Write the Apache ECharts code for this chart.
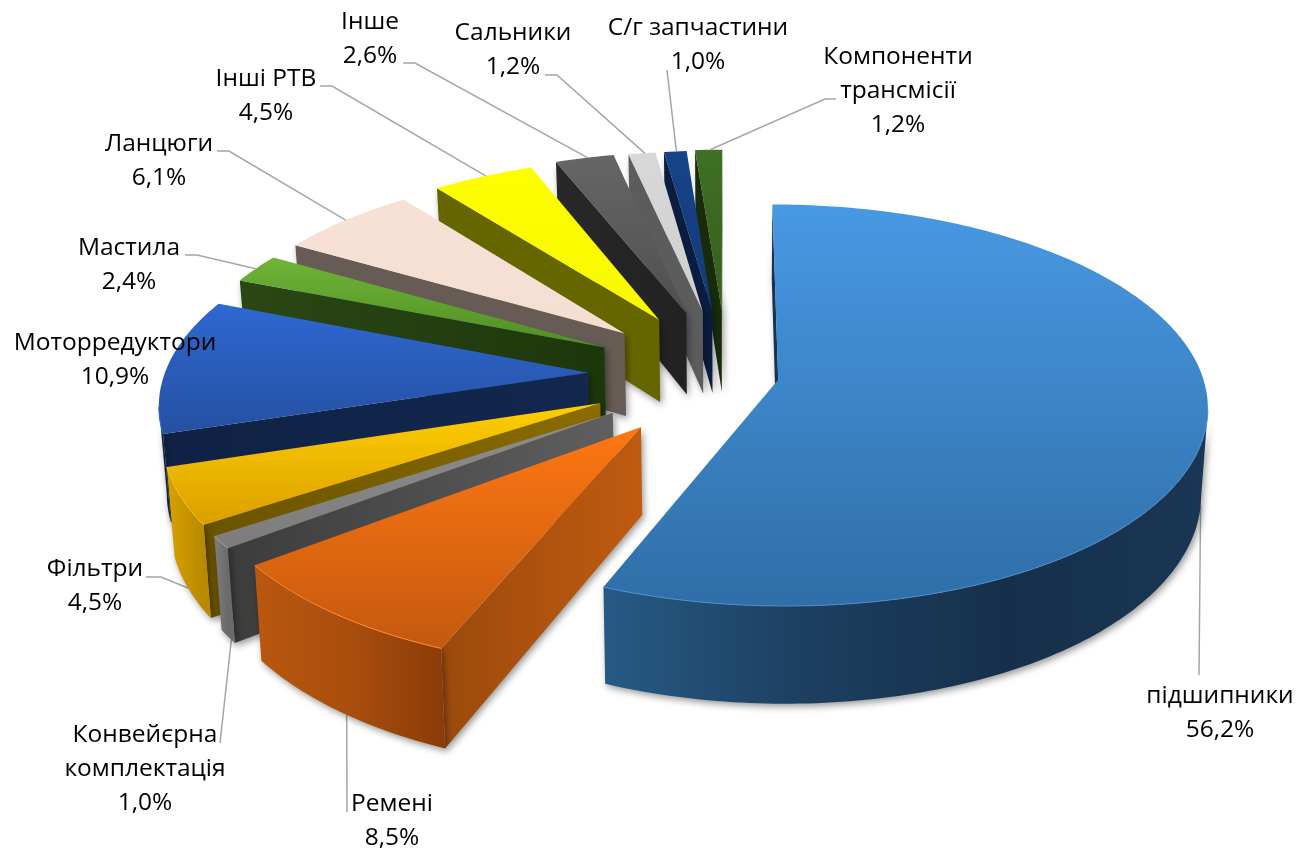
<!DOCTYPE html>
<html><head><meta charset="utf-8">
<style>html,body{margin:0;padding:0;background:#fff}#c{width:1307px;height:858px}</style>
<script src="https://cdn.jsdelivr.net/npm/echarts@6/dist/echarts.min.js"></script>
</head><body><div id="c"></div>
<script>
const categories = ['підшипники','Ремені','Конвейєрна\nкомплектація','Фільтри','Моторредуктори','Мастила','Ланцюги','Інші РТВ','Інше','Сальники','С/г запчастини','Компоненти\nтрансмісії'];
const shares = [56.2,8.5,1.0,4.5,10.9,2.4,6.1,4.5,2.6,1.2,1.0,1.2];

// --- styling / layout (not data) ---
const explode = [52,137,137,138,139,139,140,142,146,144,144,146];
const topColors = [['#4899E3','#2F6EA8'],['#FF7712','#C3590F'],['#8E8E8E','#7C7C7C'],['#FFCF00','#DC9F00'],['#2F68D2','#2450A0'],['#70B438','#4F8F25'],['#F7E1D5','#F5DFD2'],['#FFFF00','#F7F700'],['#666666','#4F4F4F'],['#D8D8D8','#CFCFCF'],['#174389','#143A75'],['#3F7023','#365E1E']];
const outerColors = [['#265A85','#1D3F60','#16304B','#1A3654'],['#BA5711','#A94E0D','#8C3C08'],['#7E7E7E','#6A6A6A'],['#D9A100','#B88A00'],['#0F2245','#0F2245'],['#3E7A1E','#3E7A1E'],['#BBB','#BBB'],['#888','#888'],['#444','#444'],['#888','#888'],['#123','#123'],['#234','#234']];
const wallColors = [['#17344F','#17344F'],['#9B4A0D','#C05B10'],['#3C3C3C','#5F5F5F'],['#6B5300','#8A6C00'],['#0F2245','#13274F'],['#2B4715','#1D370C'],['#665B55','#665B55'],['#666600','#666600'],['#282828','#222222'],['#5C5C5C','#5C5C5C'],['#0A1D40','#0A1D40'],['#182C0C','#182C0C']];
const edgeColors = ['#4A8FCB','#FF8A30','#A8A8A8','#FFC81E','#2F68D2','#80C048','#FFF0E8','#FFFF40','#777','#E4E4E4','#2558A8','#4F8A30'];
// label block centres
const labelPos = [[1220,713],[392,821],[145,769],[95,586],[115,360],[129,265],[159,161],[266,96],[370,39],[513,50],[698,45],[898,91]];
// leader: fixed points by the label, then the arc fraction it ends at, and whether it ends on the lower rim
const leaders = [
 {pts:[[1199,675]],f:.5,low:true},
 {pts:[[347,812]],f:.46,low:true},
 {pts:[[220,743]],f:.25,low:true},
 {pts:[[146,577],[161,577]],f:.5,low:true},
 null,
 {pts:[[185,255],[197,255]],f:.5,low:false},
 {pts:[[217,151],[229,151]],f:.5,low:false},
 {pts:[[320,86],[332,86]],f:.53,low:false},
 {pts:[[403,63],[415,63]],f:.55,low:false},
 {pts:[[545,75],[557,75]],f:.6,low:false},
 {pts:[[667,70]],f:.55,low:false},
 {pts:[[836,99],[825,99]],f:.55,low:false}
];
const cx=727, cy=375, R=424, tilt=.463, kk=.0003, H=85, lean=.014;
const FONT='24.5px "Open Sans","Noto Sans",sans-serif';

const total = shares.reduce((a,b)=>a+b,0);
const D2R = Math.PI/180;
function proj(u,v,low){
  const w=1-kk*v; let x=cx+u/w, y=cy+tilt*v/w;
  if(low){ y+=H/w; x=cx+(x-cx)*(1-lean); }
  return [x,y];
}
const spans=[]; { let a=0; shares.forEach(s=>{const b=a+s/total*360; spans.push([a,b]); a=b;}); }
const depth = spans.map(s=>-Math.cos((s[0]+s[1])/2*D2R));
const order = depth.map((d,i)=>[d,i]).sort((p,q)=>p[0]-q[0]).map(p=>p[1]);
const rank = []; order.forEach((id,r)=>rank[id]=r);
const camV = 1/kk;
const lin=(x,y,x2,y2,stops)=>({type:'linear',x,y,x2,y2,global:true,colorStops:stops.map((c,i)=>({offset:i/(stops.length-1),color:c}))});
const shadow={shadowBlur:7,shadowColor:'rgba(0,0,0,.4)',shadowOffsetX:2,shadowOffsetY:3};

function renderItem(params,api){
  const i=params.dataIndex, val=api.value(0);
  const [a0,a1]=spans[i], mid=(a0+a1)/2*D2R, e=explode[i];
  const pu=e*Math.sin(mid), pv=-e*Math.cos(mid);
  const rim=a=>[pu+R*Math.sin(a*D2R), pv-R*Math.cos(a*D2R)];
  const arcA=[]; const n=Math.max(2,Math.ceil(a1-a0)); for(let k=0;k<=n;k++)arcA.push(a0+(a1-a0)*k/n);
  const z=rank[i]*10, kids=[];
  const poly=(points,fill,z2,extra)=>kids.push({type:'polygon',shape:{points},style:Object.assign({fill,stroke:null},extra||{}),z2,silent:true});
  // radial walls
  [[a0,-1],[a1,1]].forEach(([a,s])=>{
    const nu=s*Math.cos(a*D2R), nv=s*Math.sin(a*D2R);
    if(nu*(0-pu)+nv*(camV-pv)<=0) return;
    const [u,v]=rim(a);
    const p1=proj(u,v,false),p2=proj(pu,pv,false),p3=proj(pu,pv,true),p4=proj(u,v,true);
    const c=wallColors[i];
    poly([p1,p2,p3,p4],lin(p1[0],0,p2[0]+1e-3,0,c),z+1,shadow);
  });
  // outer wall
  const vis=arcA.filter(a=>{const nu=Math.sin(a*D2R),nv=-Math.cos(a*D2R),[u,v]=rim(a);return nu*(0-u)+nv*(camV-v)>0;});
  if(vis.length>1){
    const up=vis.map(a=>{const[u,v]=rim(a);return proj(u,v,false);});
    const lo=vis.map(a=>{const[u,v]=rim(a);return proj(u,v,true);}).reverse();
    const xs=up.map(p=>p[0]);
    poly(up.concat(lo),lin(Math.min(...xs),0,Math.max(...xs)+1e-3,0,outerColors[i]),z+2,shadow);
    kids.push({type:'polyline',shape:{points:up},style:{stroke:edgeColors[i],lineWidth:1,fill:null},z2:z+4,silent:true});
  }
  // top face
  const topPts=[proj(pu,pv,false)].concat(arcA.map(a=>{const[u,v]=rim(a);return proj(u,v,false);}));
  const ys=topPts.map(p=>p[1]);
  poly(topPts,lin(0,Math.min(...ys),0,Math.max(...ys)+1e-3,topColors[i]),z+3);
  // leader line
  const L=leaders[i];
  if(L){
    const a=a0+(a1-a0)*L.f,[u,v]=rim(a);
    kids.push({type:'polyline',shape:{points:L.pts.concat([proj(u,v,L.low)])},style:{stroke:'#A6A6A6',lineWidth:1.5,fill:null},z2:L.low?0:500,silent:true});
  }
  // label
  kids.push({type:'text',style:{text:categories[i]+'\n'+val.toFixed(1).replace('.',',')+'%',x:labelPos[i][0],y:labelPos[i][1],align:'center',verticalAlign:'middle',font:FONT,fill:'#000',lineHeight:34},z2:1000,silent:true});
  return {type:'group',children:kids};
}
const chart=echarts.init(document.getElementById('c'),null,{renderer:'canvas'});
chart.setOption({
  animation:false,backgroundColor:'#fff',
  series:[{type:'custom',coordinateSystem:'none',renderItem,data:shares.map((v,i)=>({name:categories[i],value:[v]})),silent:true,clip:false}]
});
</script></body></html>
